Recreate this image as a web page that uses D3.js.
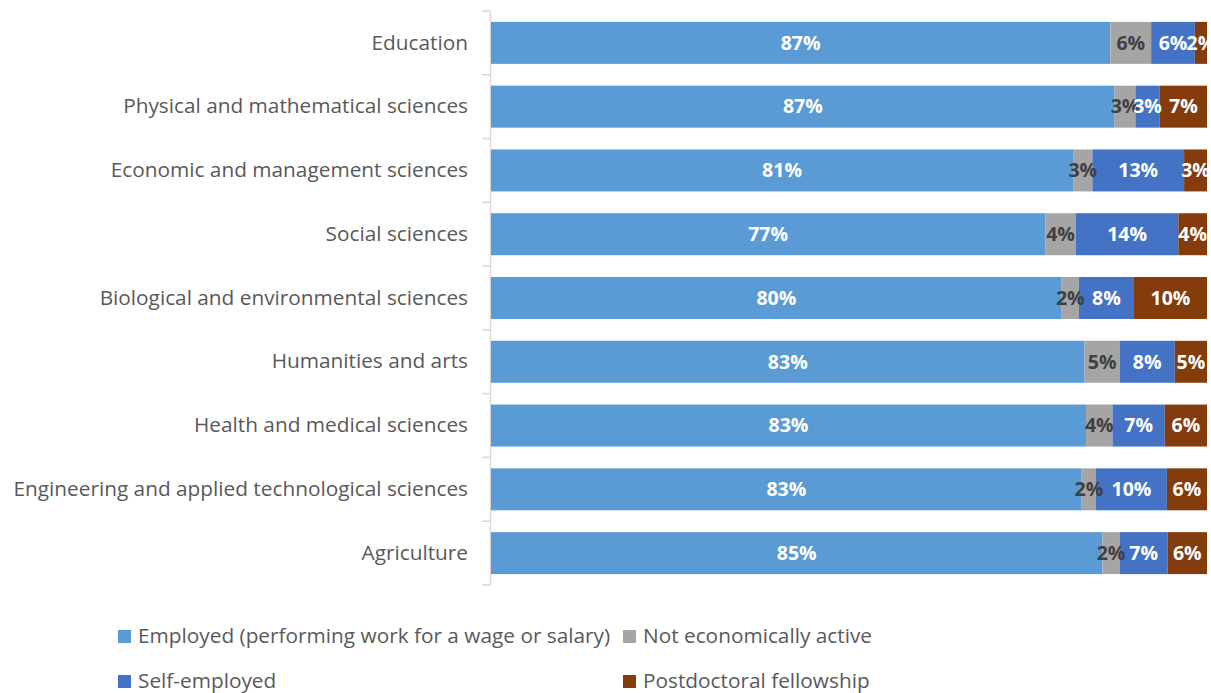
<!DOCTYPE html>
<html><head><meta charset="utf-8">
<script src="https://cdn.jsdelivr.net/npm/d3@7"></script>
<style>body{margin:0;background:#fff}svg{display:block}</style>
</head><body>
<svg id="c" width="1211" height="693"></svg>
<script>
const categories = ["Education","Physical and mathematical sciences","Economic and management sciences","Social sciences","Biological and environmental sciences","Humanities and arts","Health and medical sciences","Engineering and applied technological sciences","Agriculture"];
const seriesNames = ["Employed (performing work for a wage or salary)","Not economically active","Self-employed","Postdoctoral fellowship"];
const employed     = [86.5, 87.1, 81.3, 77.4, 79.7, 82.9, 83.1, 82.5, 85.4];
const notActive    = [5.7, 2.9, 2.7, 4.3, 2.4, 4.9, 3.7, 2.0, 2.4];
const selfEmployed = [6.1, 3.4, 12.8, 14.3, 7.7, 7.7, 7.3, 9.9, 6.7];
const postdoc      = [1.7, 6.6, 3.2, 4.0, 10.2, 4.5, 5.9, 5.6, 5.5];
const colors = ["#5B9BD5","#A5A5A5","#4472C4","#843C0C"];
const labelColors = ["#ffffff","#404040","#ffffff","#ffffff"];
const FONT = "'Open Sans', 'Noto Sans', sans-serif";

const svg = d3.select("#c");
const rows = categories.map((c,i)=>({cat:c, v:[employed[i],notActive[i],selfEmployed[i],postdoc[i]]}));
const keys = [0,1,2,3];
const stack = d3.stack().keys(keys).value((d,k)=>d.v[k]);
const layers = stack(rows);

const x = d3.scaleLinear().domain([0,100]).range([491,1207]);
const y = d3.scaleBand().domain(categories).range([11,585]).paddingInner(0.342).paddingOuter(0.171);

// axis
const yAxis = d3.axisLeft(y).tickSize(0).tickPadding(22);
const g = svg.append("g").attr("transform","translate(490,0)").call(yAxis);
g.select(".domain").attr("stroke","#d9d9d9").attr("stroke-width",1.5);
g.selectAll(".tick text").attr("fill","#595959").style("font-family",FONT).style("font-size","20.8px");
// tick marks at band boundaries
const bounds = categories.map(c=>y(c)-y.step()*y.paddingInner()/2).concat([585]);
g.selectAll("line.bt").data(bounds).enter().append("line").attr("class","bt")
  .attr("x1",-8).attr("x2",0).attr("y1",d=>d).attr("y2",d=>d)
  .attr("stroke","#d9d9d9").attr("stroke-width",1.5);

// bars
const lg = svg.append("g");
layers.forEach((layer,k)=>{
  lg.selectAll(null).data(layer).enter().append("rect")
    .attr("x",d=>x(d[0])).attr("width",d=>x(d[1])-x(d[0]))
    .attr("y",d=>y(d.data.cat)).attr("height",y.bandwidth())
    .attr("fill",colors[k]);
});
layers.forEach((layer,k)=>{
  lg.selectAll(null).data(layer).enter().append("text")
    .attr("x",d=>(x(d[0])+x(d[1]))/2).attr("y",d=>y(d.data.cat)+y.bandwidth()/2)
    .attr("dy","0.35em").attr("text-anchor","middle")
    .attr("fill",labelColors[k]).style("font-family",FONT).style("font-weight","bold")
    .style("font-size","19.5px")
    .text(d=>Math.round(d[1]-d[0])+"%");
});

// legend
const legendPos = [[118,636],[623,636],[118,681],[623,681]];
seriesNames.forEach((n,k)=>{
  const [lx,ly] = legendPos[k];
  svg.append("rect").attr("x",lx).attr("y",ly-6).attr("width",13).attr("height",13).attr("fill",colors[k]);
  svg.append("text").attr("x",lx+20).attr("y",ly).attr("dy","0.35em")
    .attr("fill","#595959").style("font-family",FONT).style("font-size","20.8px").text(n);
});
</script>
</body></html>
